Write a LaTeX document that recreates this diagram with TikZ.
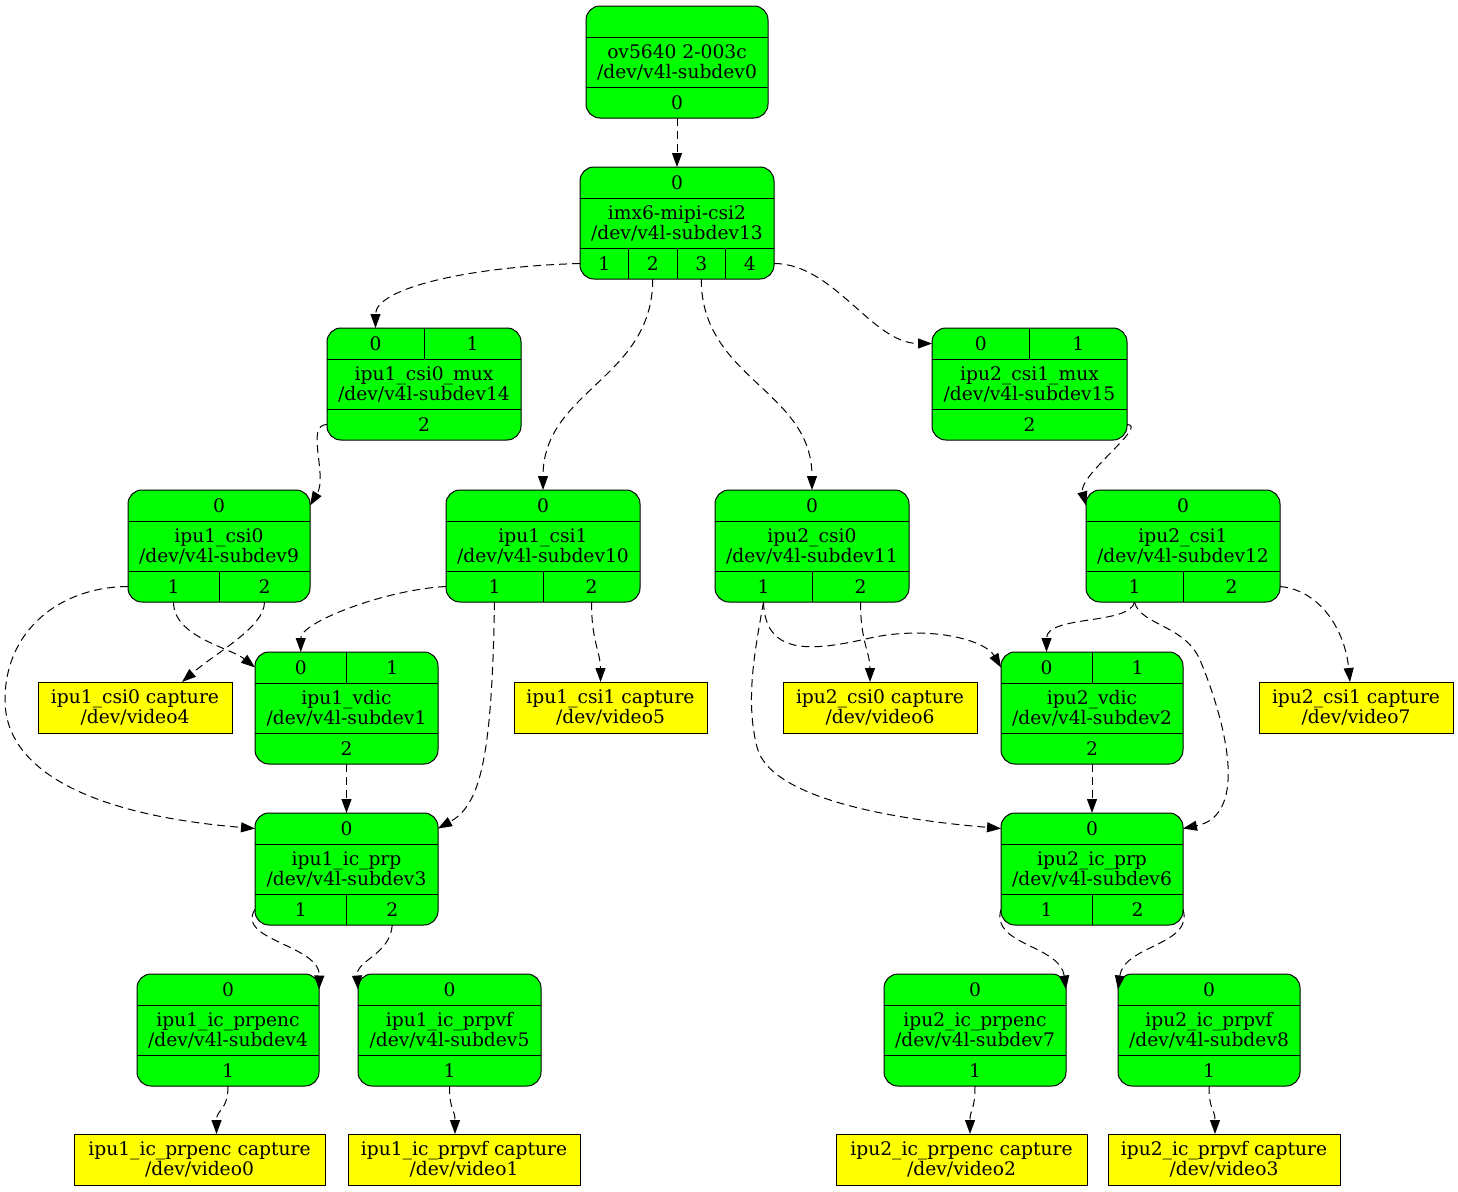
\documentclass[tikz,border=0pt]{standalone}
\usepackage{fontspec}
\setmainfont{DejaVu Serif}
\usetikzlibrary{arrows.meta}
\definecolor{nodegreen}{HTML}{00FF00}
\definecolor{capyellow}{HTML}{FFFF00}
\tikzset{
  rec/.style={draw=black, fill=nodegreen, line width=1pt, rounded corners=14pt, minimum height=112pt, inner sep=0pt, outer sep=0pt},
  capbox/.style={draw=black, fill=capyellow, line width=1pt, minimum height=51pt, inner sep=0pt, outer sep=0pt, align=center},
  lbl/.style={align=center, inner sep=0pt},
  port/.style={minimum height=31pt, inner sep=0pt, outer sep=0pt},
  rule/.style={line width=1pt, draw=black},
  conn/.style={draw=black, line width=1pt, dash pattern=on 8pt off 5pt, -{Triangle[length=14pt,width=10pt]}},
}
% #1 name, #2 x-left, #3 y-top, #4 width, #5 n top ports, #6 top labels, #7 label, #8 n bottom ports, #9 bottom labels
\newcommand\recnode[9]{%
  \node[rec, minimum width=#4pt, anchor=north west] (#1) at (#2,#3) {};
  \node[lbl] at (#1.center) {#7};
  \draw[rule] ([yshift=-31pt]#1.north west) -- ([yshift=-31pt]#1.north east);
  \draw[rule] ([yshift=31pt]#1.south west) -- ([yshift=31pt]#1.south east);
  \ifnum#5>0\relax
    \pgfmathsetmacro\cwt{#4/#5}%
    \foreach \l [count=\i] in {#6} {
      \node[port, minimum width=\cwt pt] (#1-\l) at ({#2+(\i-0.5)*\cwt}, #3+15.5) {\l};
      \ifnum\i<#5\relax \draw[rule] ({#2+\i*\cwt}, #3) -- ({#2+\i*\cwt}, #3+31); \fi
    }
  \fi
  \ifnum#8>0\relax
    \pgfmathsetmacro\cwb{#4/#8}%
    \foreach \l [count=\i] in {#9} {
      \node[port, minimum width=\cwb pt] (#1-\l) at ({#2+(\i-0.5)*\cwb}, #3+96.5) {\l};
      \ifnum\i<#8\relax \draw[rule] ({#2+\i*\cwb}, #3+81) -- ({#2+\i*\cwb}, #3+112); \fi
    }
  \fi
}
\begin{document}
\begin{tikzpicture}[x=1pt,y=-1pt,font=\fontsize{18.67}{20}\selectfont]
\path[fill=white, use as bounding box] (0,0) rectangle (1458,1191);

\recnode{ov}{586}{6}{182}{0}{}{ov5640 2-003c\\/dev/v4l-subdev0}{1}{0}
\recnode{imx}{580}{167}{194}{1}{0}{imx6-mipi-csi2\\/dev/v4l-subdev13}{4}{1,2,3,4}
\recnode{muxa}{327}{328}{194}{2}{0,1}{ipu1\_csi0\_mux\\/dev/v4l-subdev14}{1}{2}
\recnode{muxb}{932}{328}{195}{2}{0,1}{ipu2\_csi1\_mux\\/dev/v4l-subdev15}{1}{2}
\recnode{csia}{128}{490}{182}{1}{0}{ipu1\_csi0\\/dev/v4l-subdev9}{2}{1,2}
\recnode{csib}{446}{490}{194}{1}{0}{ipu1\_csi1\\/dev/v4l-subdev10}{2}{1,2}
\recnode{csic}{715}{490}{194}{1}{0}{ipu2\_csi0\\/dev/v4l-subdev11}{2}{1,2}
\recnode{csid}{1086}{490}{194}{1}{0}{ipu2\_csi1\\/dev/v4l-subdev12}{2}{1,2}
\recnode{vdica}{255}{652}{183}{2}{0,1}{ipu1\_vdic\\/dev/v4l-subdev1}{1}{2}
\recnode{vdicb}{1001}{652}{182}{2}{0,1}{ipu2\_vdic\\/dev/v4l-subdev2}{1}{2}
\recnode{prpa}{255}{813}{183}{1}{0}{ipu1\_ic\_prp\\/dev/v4l-subdev3}{2}{1,2}
\recnode{prpb}{1001}{813}{182}{1}{0}{ipu2\_ic\_prp\\/dev/v4l-subdev6}{2}{1,2}
\recnode{enca}{137}{974}{182}{1}{0}{ipu1\_ic\_prpenc\\/dev/v4l-subdev4}{1}{1}
\recnode{vfa}{358}{974}{183}{1}{0}{ipu1\_ic\_prpvf\\/dev/v4l-subdev5}{1}{1}
\recnode{encb}{884}{974}{182}{1}{0}{ipu2\_ic\_prpenc\\/dev/v4l-subdev7}{1}{1}
\recnode{vfb}{1118}{974}{182}{1}{0}{ipu2\_ic\_prpvf\\/dev/v4l-subdev8}{1}{1}

\node[capbox, minimum width=194pt] (cap4) at (135,707.5) {ipu1\_csi0 capture\\/dev/video4};
\node[capbox, minimum width=193pt] (cap5) at (610.5,707.5) {ipu1\_csi1 capture\\/dev/video5};
\node[capbox, minimum width=194pt] (cap6) at (880,707.5) {ipu2\_csi0 capture\\/dev/video6};
\node[capbox, minimum width=194pt] (cap7) at (1356,707.5) {ipu2\_csi1 capture\\/dev/video7};
\node[capbox, minimum width=251pt] (cap0) at (199.5,1159.5) {ipu1\_ic\_prpenc capture\\/dev/video0};
\node[capbox, minimum width=232pt] (cap1) at (464,1159.5) {ipu1\_ic\_prpvf capture\\/dev/video1};
\node[capbox, minimum width=251pt] (cap2) at (961.5,1159.5) {ipu2\_ic\_prpenc capture\\/dev/video2};
\node[capbox, minimum width=232pt] (cap3) at (1224,1159.5) {ipu2\_ic\_prpvf capture\\/dev/video3};

% connectors
\draw[conn] (ov-0.south) -- (imx-0.north);
\draw[conn] (imx-1.west) .. controls +(-110,3) and +(0,-40) .. (muxa-0.north);
\draw[conn] (imx-2.south) .. controls +(0,100) and +(0,-100) .. (csib-0.north);
\draw[conn] (imx-3.south) .. controls +(0,100) and +(0,-100) .. (csic-0.north);
\draw[conn] (imx-4.east) .. controls +(60,0) and +(-60,0) .. (muxb-0.west);
\draw[conn] (muxa-2.west) .. controls +(-22,0) and +(18,-30) .. (csia-0.east);
\draw[conn] (muxb-2.east) .. controls +(22,0) and +(-8,-30) .. (csid-0.west);

\draw[conn] (csia-1.south) .. controls +(0,35) and +(-25,-20) .. (vdica-0.west);
\draw[conn] (csia-1.west) .. controls (60,587) and (5,630) .. (5,700) .. controls (5,770) and (90,815) .. (prpa-0.west);
\draw[conn] (csia-2.south) .. controls +(0,25) and +(35,-30) .. ([xshift=47pt]cap4.north);
\draw[conn] (csib-1.west) .. controls +(-60,3) and +(0,-30) .. (vdica-0.north);
\draw[conn] (csib-1.south) .. controls (492,760) and (480,805) .. (prpa-0.east);
\draw[conn] (csib-2.south) .. controls +(0,40) and +(0,-30) .. ([xshift=-10pt]cap5.north);
\draw[conn] (vdica-2.south) -- (prpa-0.north);
\draw[conn] (prpa-1.west) .. controls (235,940) and (320,945) .. (enca-0.east);
\draw[conn] (prpa-2.south) .. controls (390,955) and (356,960) .. (vfa-0.west);
\draw[conn] (enca-1.south) .. controls +(0,25) and +(0,-25) .. ([xshift=17pt]cap0.north);
\draw[conn] (vfa-1.south) .. controls +(0,25) and +(0,-25) .. ([xshift=-9pt]cap1.north);

\draw[conn] (csic-1.south) .. controls (765,655) and (810,652) .. (870,638) .. controls (930,625) and (985,640) .. (vdicb-0.west);
\draw[conn] (csic-1.south) .. controls (755,650) and (745,700) .. (757,747) .. controls (770,800) and (900,820) .. (prpb-0.west);
\draw[conn] (csic-2.south) .. controls +(0,40) and +(0,-30) .. ([xshift=-10pt]cap6.north);
\draw[conn] (csid-1.south) .. controls (1130,625) and (1046.5,615) .. (vdicb-0.north);
\draw[conn] (csid-1.south) .. controls (1140,625) and (1185,625) .. (1200,660) .. controls (1225,720) and (1250,815) .. (prpb-0.east);
\draw[conn] (csid-2.east) .. controls (1320,590) and (1345,630) .. ([xshift=-6pt]cap7.north);
\draw[conn] (vdicb-2.south) -- (prpb-0.north);
\draw[conn] (prpb-1.west) .. controls (990,945) and (1060,945) .. (encb-0.east);
\draw[conn] (prpb-2.east) .. controls (1194,945) and (1124,945) .. (vfb-0.west);
\draw[conn] (encb-1.south) .. controls +(0,25) and +(0,-25) .. ([xshift=8.5pt]cap2.north);
\draw[conn] (vfb-1.south) .. controls +(0,25) and +(0,-25) .. ([xshift=-9pt]cap3.north);
\end{tikzpicture}
\end{document}
